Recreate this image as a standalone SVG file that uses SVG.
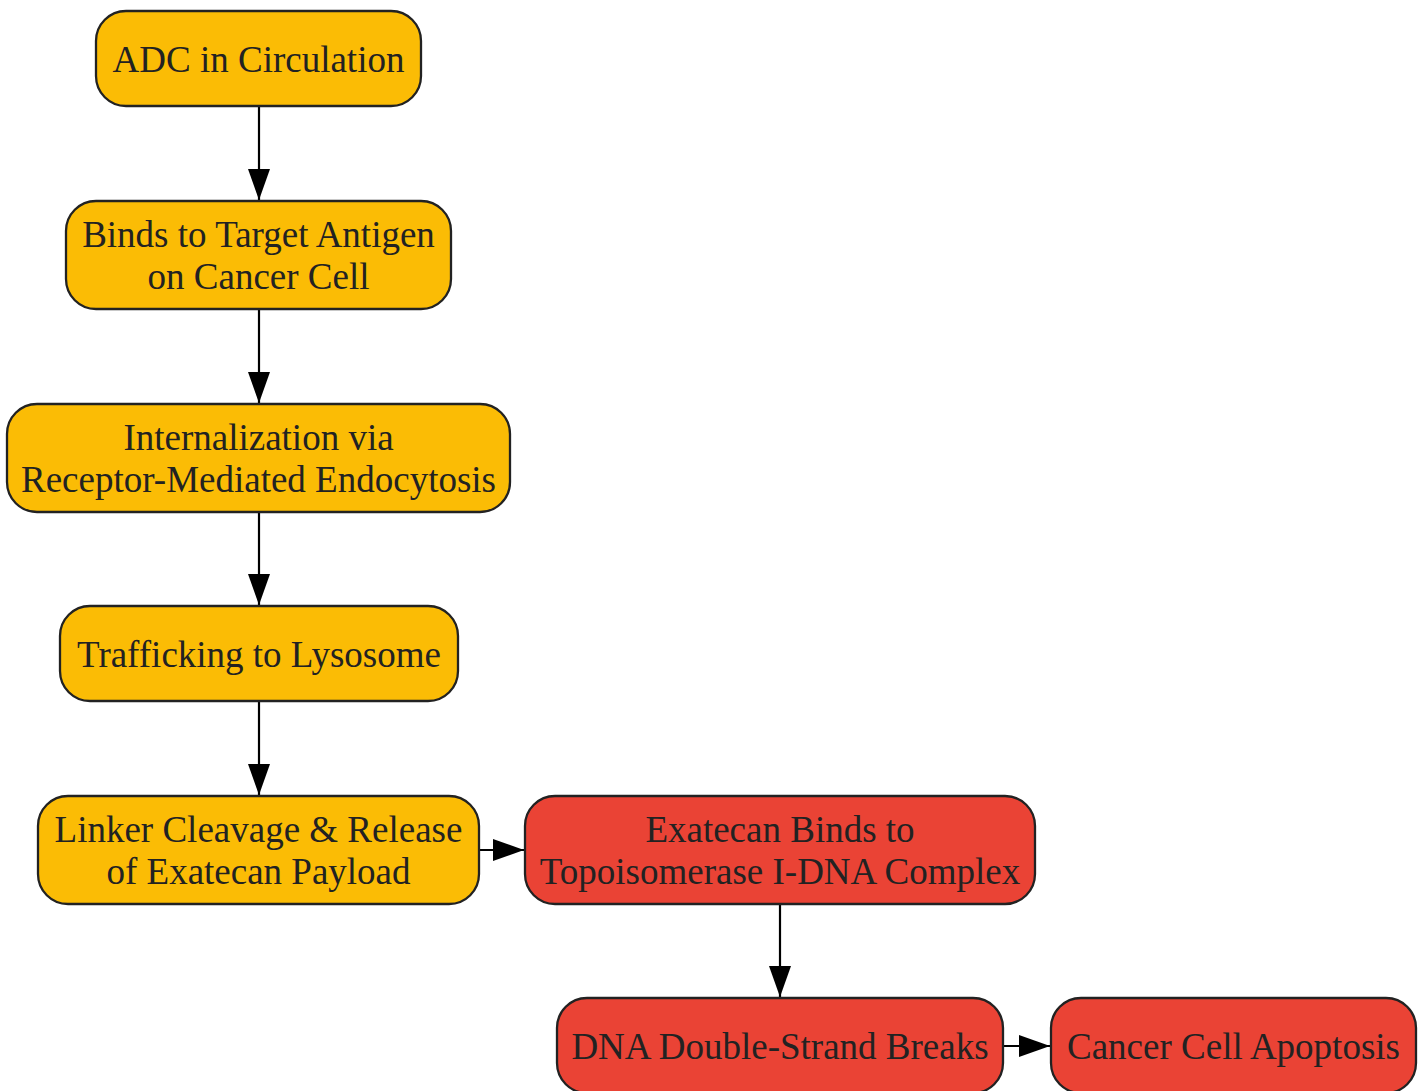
<svg xmlns="http://www.w3.org/2000/svg" width="1423" height="1091" viewBox="0 0 1423 1091">
<style>
.box{stroke:#222;stroke-width:2.3}
.y{fill:#FBBC05}
.r{fill:#EA4335}
text{font-family:"Liberation Serif","Times New Roman",serif;font-size:37px;fill:#222;text-anchor:middle}
.edge{stroke:#000;stroke-width:2.2;fill:none;marker-end:url(#ah)}
</style>
<defs>
<marker id="ah" markerUnits="userSpaceOnUse" markerWidth="32" markerHeight="24" refX="31" refY="11" orient="auto">
<path d="M0,0 L31,11 L0,22 z" fill="#000"/>
</marker>
</defs>
<rect width="1423" height="1091" fill="#fff"/>
<g id="edges">
<line class="edge" x1="259" y1="106" x2="259" y2="200"/>
<line class="edge" x1="259" y1="309" x2="259" y2="403"/>
<line class="edge" x1="259" y1="512" x2="259" y2="605"/>
<line class="edge" x1="259" y1="701" x2="259" y2="795"/>
<line class="edge" x1="479" y1="850" x2="524" y2="850"/>
<line class="edge" x1="780" y1="904" x2="780" y2="997"/>
<line class="edge" x1="1003" y1="1046" x2="1050" y2="1046"/>
</g>
<g id="n1"><rect class="box y" x="96" y="11" width="325" height="95" rx="30"/><text x="258.5" y="72">ADC in Circulation</text></g>
<g id="n2"><rect class="box y" x="66" y="201" width="385" height="108" rx="30"/><text x="258.5" y="247">Binds to Target Antigen</text><text x="258.5" y="289">on Cancer Cell</text></g>
<g id="n3"><rect class="box y" x="7" y="404" width="503" height="108" rx="30"/><text x="258.5" y="450">Internalization via</text><text x="258.5" y="492">Receptor-Mediated Endocytosis</text></g>
<g id="n4"><rect class="box y" x="60" y="606" width="398" height="95" rx="30"/><text x="259" y="667">Trafficking to Lysosome</text></g>
<g id="n5"><rect class="box y" x="38" y="796" width="441" height="108" rx="30"/><text x="258.5" y="842">Linker Cleavage &amp; Release</text><text x="258.5" y="884">of Exatecan Payload</text></g>
<g id="n6"><rect class="box r" x="525" y="796" width="510" height="108" rx="30"/><text x="780" y="842">Exatecan Binds to</text><text x="780" y="884">Topoisomerase I-DNA Complex</text></g>
<g id="n7"><rect class="box r" x="557" y="998" width="446" height="95" rx="30"/><text x="780" y="1059">DNA Double-Strand Breaks</text></g>
<g id="n8"><rect class="box r" x="1051" y="998" width="365" height="95" rx="30"/><text x="1233.5" y="1059">Cancer Cell Apoptosis</text></g>
</svg>
